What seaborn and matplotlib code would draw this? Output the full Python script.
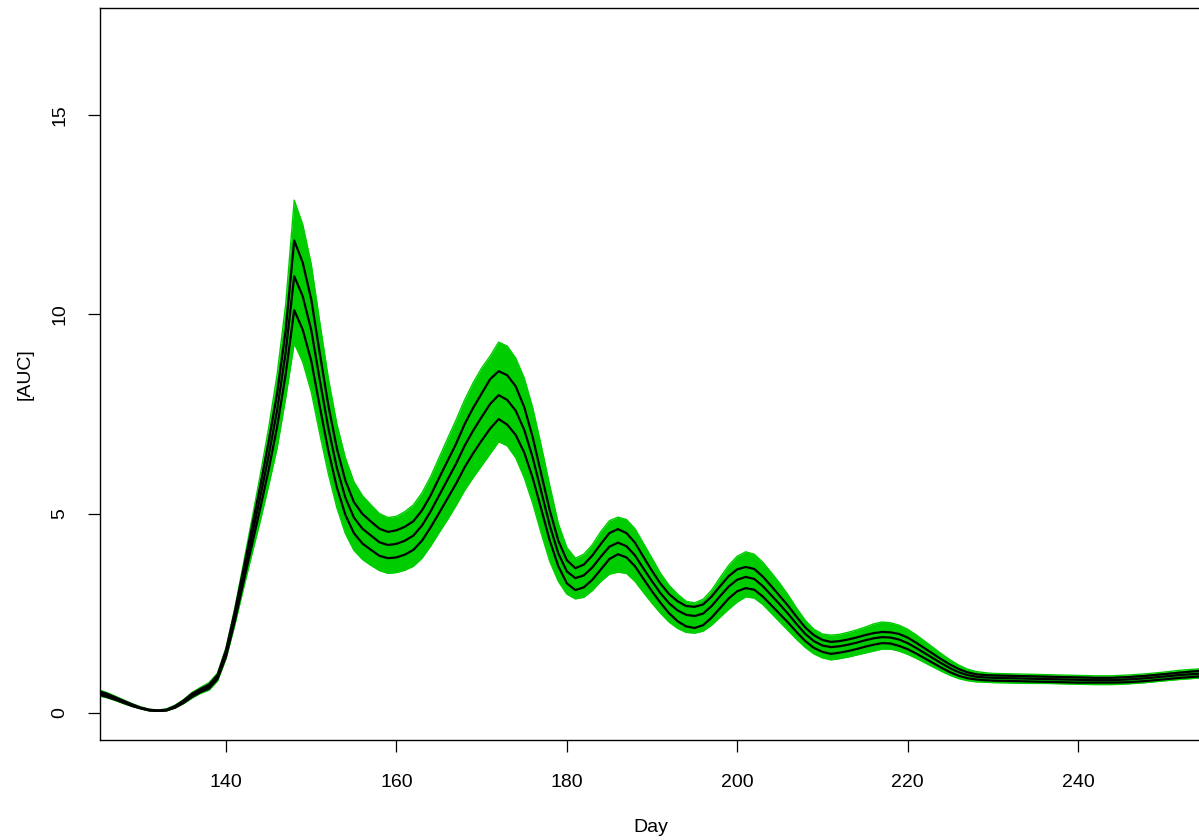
import matplotlib
matplotlib.use("Agg")
import matplotlib.pyplot as plt
import seaborn as sns

# ---------------- data ----------------
day = [125, 126, 127, 128, 129, 130, 131, 132, 133, 134, 135, 136, 137, 138, 139,
       140, 141, 142, 143, 144, 145, 146, 147, 148, 149, 150, 151, 152, 153, 154,
       155, 156, 157, 158, 159, 160, 161, 162, 163, 164, 165, 166, 167, 168, 169,
       170, 171, 172, 173, 174, 175, 176, 177, 178, 179, 180, 181, 182, 183, 184,
       185, 186, 187, 188, 189, 190, 191, 192, 193, 194, 195, 196, 197, 198, 199,
       200, 201, 202, 203, 204, 205, 206, 207, 208, 209, 210, 211, 212, 213, 214,
       215, 216, 217, 218, 219, 220, 221, 222, 223, 224, 225, 226, 227, 228, 229,
       230, 232, 234, 236, 238, 240, 242, 244, 246, 248, 250, 252, 254, 255]

median = [0.50, 0.44, 0.36, 0.27, 0.19, 0.12, 0.07, 0.05, 0.07, 0.15, 0.28, 0.44, 0.56, 0.66, 0.90,
          1.50, 2.40, 3.40, 4.40, 5.40, 6.45, 7.60, 9.05, 10.95, 10.45, 9.60, 8.35, 7.15, 6.15, 5.40,
          4.90, 4.62, 4.45, 4.28, 4.21, 4.24, 4.32, 4.45, 4.70, 5.05, 5.45, 5.85, 6.25, 6.70, 7.08,
          7.42, 7.75, 7.97, 7.85, 7.58, 7.10, 6.40, 5.55, 4.70, 4.00, 3.55, 3.38, 3.45, 3.65, 3.92,
          4.17, 4.27, 4.18, 3.95, 3.62, 3.30, 3.00, 2.75, 2.57, 2.46, 2.43, 2.49, 2.68, 2.93, 3.17,
          3.34, 3.41, 3.36, 3.18, 2.95, 2.72, 2.48, 2.22, 1.98, 1.80, 1.69, 1.65, 1.67, 1.71, 1.76,
          1.82, 1.87, 1.90, 1.89, 1.84, 1.75, 1.63, 1.50, 1.37, 1.24, 1.12, 1.02, 0.95, 0.91, 0.89,
          0.88, 0.87, 0.86, 0.85, 0.84, 0.83, 0.82, 0.82, 0.84, 0.87, 0.91, 0.95, 0.98, 1.00]

upper_q = [0.55, 0.48, 0.39, 0.30, 0.21, 0.13, 0.08, 0.06, 0.08, 0.17, 0.31, 0.48, 0.60, 0.71, 0.95,
           1.58, 2.52, 3.56, 4.62, 5.68, 6.80, 8.02, 9.60, 11.85, 11.29, 10.37, 9.02, 7.72, 6.64, 5.83,
           5.29, 4.99, 4.80, 4.62, 4.54, 4.58, 4.67, 4.81, 5.08, 5.45, 5.89, 6.32, 6.75, 7.24, 7.65,
           8.01, 8.37, 8.57, 8.47, 8.19, 7.67, 6.91, 5.99, 5.08, 4.32, 3.83, 3.63, 3.72, 3.95, 4.24,
           4.51, 4.61, 4.51, 4.27, 3.91, 3.56, 3.24, 2.98, 2.80, 2.68, 2.66, 2.72, 2.92, 3.18, 3.43,
           3.60, 3.66, 3.61, 3.42, 3.18, 2.93, 2.68, 2.40, 2.14, 1.95, 1.83, 1.78, 1.80, 1.84, 1.89,
           1.95, 2.00, 2.03, 2.02, 1.98, 1.89, 1.76, 1.62, 1.48, 1.34, 1.21, 1.10, 1.02, 0.97, 0.95,
           0.94, 0.93, 0.92, 0.91, 0.90, 0.89, 0.88, 0.88, 0.90, 0.93, 0.97, 1.01, 1.05, 1.07]

lower_q = [0.46, 0.40, 0.33, 0.25, 0.17, 0.11, 0.06, 0.05, 0.06, 0.13, 0.25, 0.40, 0.52, 0.61, 0.85,
           1.42, 2.28, 3.24, 4.18, 5.12, 6.10, 7.18, 8.50, 10.10, 9.61, 8.83, 7.68, 6.58, 5.66, 4.97,
           4.51, 4.25, 4.09, 3.94, 3.88, 3.90, 3.97, 4.09, 4.32, 4.65, 5.01, 5.38, 5.75, 6.16, 6.51,
           6.83, 7.13, 7.37, 7.23, 6.97, 6.53, 5.89, 5.11, 4.32, 3.68, 3.25, 3.08, 3.15, 3.34, 3.60,
           3.86, 3.98, 3.90, 3.68, 3.36, 3.05, 2.76, 2.50, 2.30, 2.17, 2.13, 2.20, 2.39, 2.63, 2.87,
           3.05, 3.13, 3.09, 2.92, 2.70, 2.48, 2.26, 2.02, 1.80, 1.63, 1.53, 1.48, 1.51, 1.55, 1.60,
           1.66, 1.71, 1.75, 1.74, 1.68, 1.60, 1.49, 1.37, 1.25, 1.13, 1.02, 0.93, 0.87, 0.84, 0.82,
           0.81, 0.80, 0.79, 0.78, 0.77, 0.76, 0.76, 0.76, 0.77, 0.80, 0.84, 0.88, 0.91, 0.93]

ens_max = [0.58, 0.51, 0.42, 0.32, 0.23, 0.15, 0.09, 0.07, 0.10, 0.19, 0.33, 0.51, 0.64, 0.76, 1.00,
           1.64, 2.60, 3.70, 4.82, 5.95, 7.15, 8.50, 10.25, 12.86, 12.25, 11.25, 9.80, 8.40, 7.25, 6.40,
           5.80, 5.45, 5.22, 5.00, 4.90, 4.93, 5.05, 5.22, 5.52, 5.92, 6.40, 6.88, 7.35, 7.85, 8.28,
           8.65, 8.95, 9.30, 9.20, 8.90, 8.40, 7.65, 6.70, 5.70, 4.75, 4.15, 3.88, 3.98, 4.22, 4.55,
           4.82, 4.91, 4.85, 4.62, 4.25, 3.88, 3.50, 3.20, 2.98, 2.80, 2.76, 2.85, 3.08, 3.40, 3.70,
           3.93, 4.04, 3.98, 3.78, 3.52, 3.25, 2.95, 2.62, 2.32, 2.10, 1.98, 1.95, 1.97, 2.02, 2.08,
           2.15, 2.23, 2.28, 2.26, 2.20, 2.10, 1.96, 1.80, 1.64, 1.48, 1.33, 1.20, 1.10, 1.04, 1.01,
           0.99, 0.98, 0.97, 0.96, 0.95, 0.94, 0.93, 0.93, 0.95, 0.98, 1.02, 1.07, 1.10, 1.12]

ens_min = [0.43, 0.38, 0.31, 0.23, 0.16, 0.10, 0.05, 0.04, 0.05, 0.12, 0.23, 0.37, 0.49, 0.57, 0.80,
           1.36, 2.18, 3.08, 3.95, 4.80, 5.70, 6.65, 7.90, 9.27, 8.80, 8.05, 7.00, 6.00, 5.15, 4.50,
           4.08, 3.85, 3.70, 3.57, 3.50, 3.52, 3.58, 3.68, 3.88, 4.18, 4.52, 4.85, 5.20, 5.58, 5.90,
           6.20, 6.50, 6.80, 6.70, 6.40, 5.90, 5.25, 4.50, 3.80, 3.30, 2.98, 2.86, 2.90, 3.07, 3.30,
           3.48, 3.53, 3.50, 3.30, 3.02, 2.75, 2.50, 2.28, 2.12, 2.02, 2.00, 2.05, 2.20, 2.40, 2.60,
           2.78, 2.91, 2.88, 2.72, 2.50, 2.28, 2.06, 1.84, 1.64, 1.48, 1.38, 1.33, 1.36, 1.40, 1.45,
           1.50, 1.55, 1.60, 1.60, 1.55, 1.47, 1.37, 1.26, 1.15, 1.04, 0.94, 0.86, 0.81, 0.78, 0.77,
           0.76, 0.75, 0.74, 0.74, 0.73, 0.72, 0.71, 0.71, 0.73, 0.76, 0.80, 0.84, 0.87, 0.88]

x_ticks = [140, 160, 180, 200, 220, 240]
y_ticks = [0, 5, 10, 15]
x_label = "Day"
y_label = "[AUC]"

# ---------------- styling ----------------
sns.set_style("white")
plt.rcParams["font.family"] = ["Liberation Sans", "DejaVu Sans"]

W, H = 1199, 840
fig = plt.figure(figsize=(W / 100, H / 100), dpi=100)
ax = fig.add_axes([100 / W, 100 / H, 1104 / W, 732 / H])

green = "#00CD00"

# ensemble envelope (green spaghetti band)
ax.fill_between(day, ens_min, ens_max, color=green, lw=0, zorder=1)
sns.lineplot(x=day, y=ens_max, ax=ax, color=green, lw=1.0, zorder=2)
sns.lineplot(x=day, y=ens_min, ax=ax, color=green, lw=1.0, zorder=2)

# quantile / median lines
for series in (upper_q, median, lower_q):
    sns.lineplot(x=day, y=series, ax=ax, color="black", lw=1.6, zorder=3)

ax.set_xlim(125.2, 254.8)
ax.set_ylim(-0.68, 17.68)
ax.set_xticks(x_ticks)
ax.set_yticks(y_ticks)
ax.set_xticklabels([str(v) for v in x_ticks])
ax.set_yticklabels([str(v) for v in y_ticks], rotation=90, va="center")

for s in ax.spines.values():
    s.set_visible(True)
    s.set_color("black")
    s.set_linewidth(1.0)

ax.tick_params(axis="both", which="major", direction="out", length=8.6,
               width=0.9, color="black", labelsize=14, labelcolor="black",
               bottom=True, left=True)
ax.tick_params(axis="x", pad=16)
ax.tick_params(axis="y", pad=14)

ax.set_xlabel(x_label, fontsize=14, color="black")
ax.set_ylabel(y_label, fontsize=14, color="black")
ax.xaxis.set_label_coords(0.499, -0.119)
ax.xaxis.label.set_va("center")
ax.yaxis.set_label_coords(-0.068, 0.5)
ax.yaxis.label.set_va("center")
ax.grid(False)

fig.savefig("out.png", dpi=100, facecolor="white")
